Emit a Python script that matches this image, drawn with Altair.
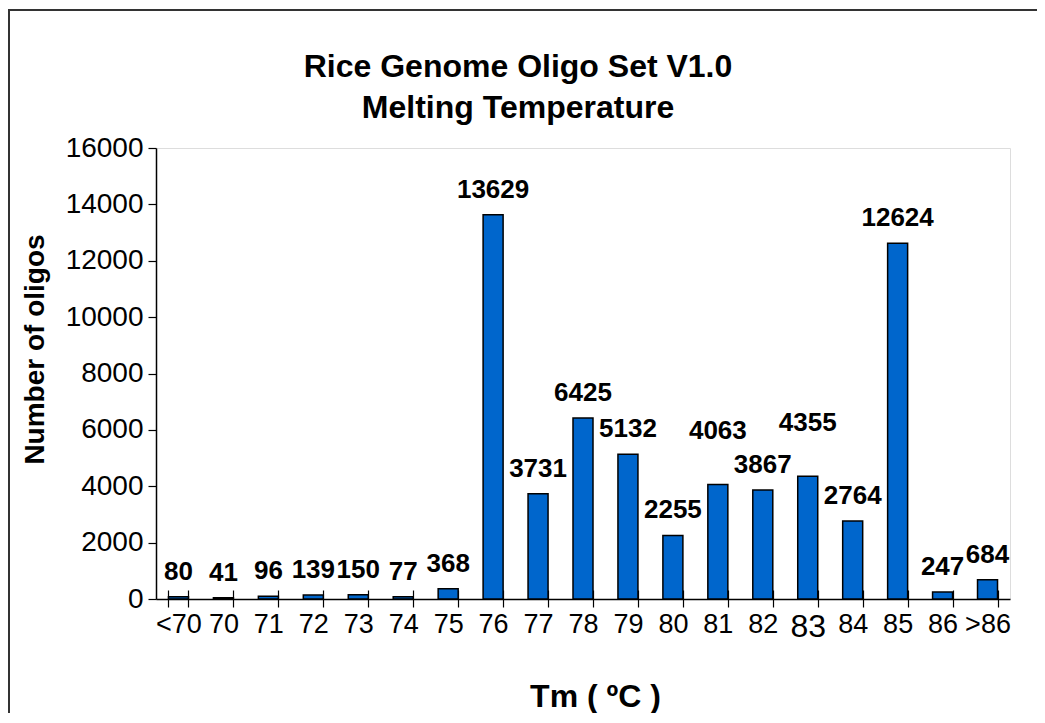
import altair as alt
import pandas as pd

categories = ["<70", "70", "71", "72", "73", "74", "75", "76", "77", "78",
              "79", "80", "81", "82", "83", "84", "85", "86", ">86"]
counts = [80, 41, 96, 139, 150, 77, 368, 13629, 3731, 6425,
          5132, 2255, 4063, 3867, 4355, 2764, 12624, 247, 684]
y_ticks = [0, 2000, 4000, 6000, 8000, 10000, 12000, 14000, 16000]
title_lines = ["Rice Genome Oligo Set V1.0", "Melting Temperature"]
x_title = "Tm ( \u00baC )"
y_title = "Number of oligos"

df = pd.DataFrame({
    "i": list(range(len(categories))),
    "tm": categories,
    "n": counts,
    "label": [str(c) for c in counts],
})

FONT = "Liberation Sans"
xscale = alt.Scale(domain=categories, paddingInner=0.555, paddingOuter=0.2775)
yscale = alt.Scale(domain=[0, 16000], nice=False)

yaxis = alt.Axis(values=y_ticks, format="d", title=y_title, grid=False, domainColor="black",
                 domainWidth=1.5, tickColor="black", tickWidth=1.2, tickSize=8,
                 labelFontSize=28, labelColor="black", labelPadding=5, labelFont=FONT,
                 titleFontSize=28, titleFontWeight="bold", titleFont=FONT, titleColor="black",
                 titleX=-121, titleY=201, titleAlign="center", titleBaseline="middle",
                 titleAngle=270)

xaxis_main = alt.Axis(orient="bottom", title=x_title, tickBand="extent", tickSize=8,
                      tickColor="black", tickWidth=1.2, domainColor="black", domainWidth=1.5,
                      labelFontSize={"condition": {"test": "datum.value == '83'", "value": 32}, "value": 27},
                      labelAngle=0, labelPadding=4, labelColor="black", labelFont=FONT,
                      titleFontSize=32, titleFontWeight="bold", titleFont=FONT, titleColor="black",
                      titleX=439, titleY=107, titleBaseline="alphabetic", titleAlign="center",
                      grid=False)

xaxis_up = alt.Axis(orient="bottom", offset=-9, tickSize=9, labels=False, domain=False,
                    title=None, tickBand="extent", tickColor="black", tickWidth=1.2, grid=False)

base = alt.Chart(df)

bars = base.mark_bar(color="#0066CC", stroke="black", strokeWidth=1.5).encode(
    x=alt.X("tm:N", sort=categories, scale=xscale, axis=xaxis_main),
    y=alt.Y("n:Q", scale=yscale, axis=yaxis),
)

# value labels: a simple collision rule lifts the taller of two neighbouring
# 4-digit labels that would otherwise sit at almost the same height
labels = base.transform_window(
    prev="lag(n)", next="lead(n)", sort=[alt.SortField("i")],
).transform_calculate(
    lift="((isValid(datum.prev) && datum.prev >= 1000 && datum.n > datum.prev && abs(datum.n - datum.prev) < 700) || "
         "(isValid(datum.next) && datum.next >= 1000 && datum.n > datum.next && abs(datum.n - datum.next) < 700)) ? 1 : 0",
    ly="datum.n + datum.lift * 1000",
).mark_text(fontSize=26, fontWeight="bold", dy=-17, baseline="alphabetic",
            color="black", font=FONT).encode(
    x=alt.X("tm:N", sort=categories, scale=xscale, axis=xaxis_up),
    y=alt.Y("ly:Q", scale=yscale, axis=yaxis),
    text="label:N",
)

frame_df = pd.DataFrame({"k": [0]})
left_border = alt.Chart(frame_df).mark_rule(color="#333333", strokeWidth=2).encode(
    x=alt.value(-147), y=alt.value(-138), y2=alt.value(600))
top_border = alt.Chart(frame_df).mark_rule(color="#333333", strokeWidth=2).encode(
    x=alt.value(-148), x2=alt.value(900), y=alt.value(-138))

chart = alt.layer(bars, labels, left_border, top_border).resolve_axis(x="independent").properties(
    width=854, height=451,
    padding={"left": 148, "top": 140, "right": 27, "bottom": 114},
    autosize="none",
    title=alt.TitleParams(text=title_lines, fontSize=32, fontWeight="bold", font=FONT,
                          lineHeight=41, dx=-65, anchor="middle", color="black",
                          baseline="bottom", offset=-148),
).configure_view(stroke="#808080", strokeWidth=1.5).configure(font=FONT)

chart.save("out.html", embed_options={"renderer": "svg", "actions": False})
